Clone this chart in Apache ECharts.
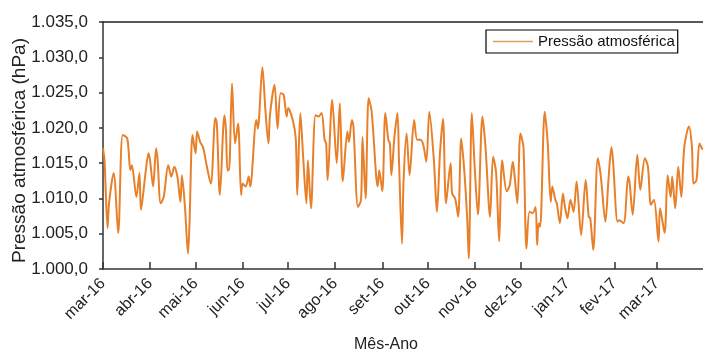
<!DOCTYPE html>
<html>
<head>
<meta charset="utf-8">
<script src="https://cdn.jsdelivr.net/npm/echarts@6/dist/echarts.min.js"></script>
<style>html,body{margin:0;padding:0;background:#fff}#c{width:703px;height:352px}</style>
</head>
<body>
<div id="c"></div>
<script>
// days since 2016-03-01
var days = [0,1,3,4,7,10,13,16,18,19,22,24,25,28,30,31,33,35,36,38,40,43,45,47,49,51,52,54,56,57,59,61,62,64,66,68,71,74,75,77,80,81,82,83,85,87,89,91,92,94,96,97,101,102,105,107,109,110,113,115,117,119,121,122,125,127,128,130,132,134,135,137,140,142,144,146,147,148,151,154,156,158,161,162,164,165,168,170,171,173,175,177,180,181,182,184,186,188,189,190,192,194,195,197,198,200,202,205,207,209,211,213,215,218,220,222,224,226,229,230,232,234,236,238,240,241,243,245,247,250,252,255,257,259,261,263,266,268,270,271,273,275,277,279,281,283,285,286,287,288,291,293,295,296,298,299,301,303,304,306,308,310,312,315,318,320,321,323,326,328,331,333,335,336,339,340,343,346,347,349,352,354,357,359,361,363,366,367,370,372,374,375,377,379,381,383,386,388,389,391,393,395];
var pressure = [1017.1,1015.4,1005.8,1009.4,1013.6,1005.1,1019.0,1018.5,1014.0,1014.7,1010.2,1013.6,1008.4,1013.6,1016.4,1015.4,1011.7,1017.1,1015.4,1009.3,1010.2,1014.7,1013.1,1014.5,1013.1,1009.5,1013.3,1008.8,1002.2,1006.5,1019.0,1016.4,1019.5,1018.0,1017.2,1015.0,1012.1,1021.4,1020.6,1010.5,1021.8,1019.7,1014.0,1014.0,1026.3,1017.8,1020.6,1010.5,1012.1,1011.7,1013.1,1011.7,1021.1,1019.9,1028.6,1022.5,1017.8,1021.8,1026.1,1019.9,1024.9,1024.7,1021.6,1022.8,1021.1,1018.5,1010.5,1022.1,1015.4,1009.3,1015.4,1008.6,1021.8,1021.6,1022.1,1018.3,1017.8,1012.6,1024.0,1015.0,1023.5,1012.4,1019.5,1018.0,1021.1,1020.2,1008.8,1009.8,1018.7,1010.0,1024.2,1022.3,1013.1,1011.7,1014.0,1011.0,1022.1,1018.3,1017.8,1013.3,1018.7,1022.1,1015.4,1003.6,1012.4,1019.2,1013.3,1021.1,1018.3,1018.3,1017.6,1015.2,1022.3,1015.4,1008.1,1016.4,1021.3,1009.3,1015.0,1010.7,1010.0,1007.4,1018.5,1014.0,1006.9,1001.5,1022.1,1014.0,1007.7,1021.6,1017.3,1007.4,1015.9,1013.6,1003.9,1015.4,1011.0,1011.9,1015.2,1013.6,1009.3,1019.2,1017.3,1002.9,1008.1,1007.9,1008.8,1003.4,1006.5,1006.0,1022.3,1017.8,1009.5,1011.7,1009.8,1009.3,1006.5,1010.7,1009.3,1007.2,1009.8,1008.1,1012.4,1004.8,1012.6,1007.4,1007.2,1002.7,1015.7,1013.1,1006.7,1012.6,1017.3,1015.4,1006.7,1006.9,1006.5,1013.1,1012.1,1007.7,1016.2,1011.2,1015.7,1014.5,1009.1,1009.8,1003.9,1008.6,1005.1,1013.3,1010.2,1013.1,1008.6,1014.5,1010.2,1017.3,1020.2,1017.3,1012.1,1012.6,1017.8,1016.9];
var monthDays = [0,31,61,92,122,153,184,214,245,275,306,337,365];
var monthLabels = ['mar-16','abr-16','mai-16','jun-16','jul-16','ago-16','set-16','out-16','nov-16','dez-16','jan-17','fev-17','mar-17'];
var yTicks = [1000,1005,1010,1015,1020,1025,1030,1035];

var seriesData = days.map(function(d,i){return [d, pressure[i]];});
var font = 'Liberation Sans, Arial, sans-serif';
var chart = echarts.init(document.getElementById('c'), null, {renderer:'canvas'});
chart.setOption({
  animation:false,
  backgroundColor:'#fff',
  grid:{left:103, right:0, top:22, bottom:83, containLabel:false, outerBoundsMode:'none'},
  legend:{
    left:486, top:30,
    icon:'rect',
    data:[{name:'Pressão atmosférica', itemStyle:{color:'#D9A35E'}}],
    borderColor:'#000', borderWidth:1.2,
    padding:[4,3,4,7],
    itemWidth:40, itemHeight:1.5, itemGap:4,
    textStyle:{fontFamily:font, fontSize:15, color:'#111', lineHeight:15}
  },
  xAxis:[{
    type:'value', min:0, max:395.3,
    name:'Mês-Ano', nameLocation:'middle', nameGap:68, nameMoveOverlap:false,
    nameTextStyle:{fontFamily:font, fontSize:16, color:'#222', padding:[0,34,0,0]},
    axisLine:{show:true, onZero:false, lineStyle:{color:'#333', width:1.5}},
    axisTick:{show:true, inside:true, length:7, customValues:monthDays, lineStyle:{color:'#333', width:1.5}},
    axisLabel:{rotate:45, margin:12, customValues:monthDays, fontFamily:font, fontSize:16, color:'#222',
      formatter:function(v){var i=monthDays.indexOf(Math.round(v)); return i>=0?monthLabels[i]:'';}},
    splitLine:{show:false}
  },{
    type:'value', min:0, max:395.3, position:'top',
    axisLine:{show:true, lineStyle:{color:'#222', width:1.5}},
    axisTick:{show:false}, axisLabel:{show:false}, splitLine:{show:false}
  }],
  yAxis:{
    type:'value', min:1000, max:1035, interval:5,
    name:'Pressão atmosférica (hPa)', nameLocation:'middle', nameGap:74, nameRotate:90, nameMoveOverlap:false,
    nameTextStyle:{fontFamily:font, fontSize:19, color:'#222', padding:[0,10,0,0]},
    axisLine:{show:true, lineStyle:{color:'#333', width:1.5}},
    axisTick:{show:true, inside:false, length:4, lineStyle:{color:'#333', width:1.5}},
    axisLabel:{margin:15, fontFamily:font, fontSize:17, color:'#222',
      formatter:function(v){var s=String(Math.round(v)); return s.slice(0,1)+'.'+s.slice(1)+',0';}},
    splitLine:{show:false}
  },
  series:[{
    name:'Pressão atmosférica', type:'line', data:seriesData,
    symbol:'none', smooth:0.3,
    lineStyle:{color:'#E8802A', width:2},
    itemStyle:{color:'#E8802A'}
  }]
});
</script>
</body>
</html>
